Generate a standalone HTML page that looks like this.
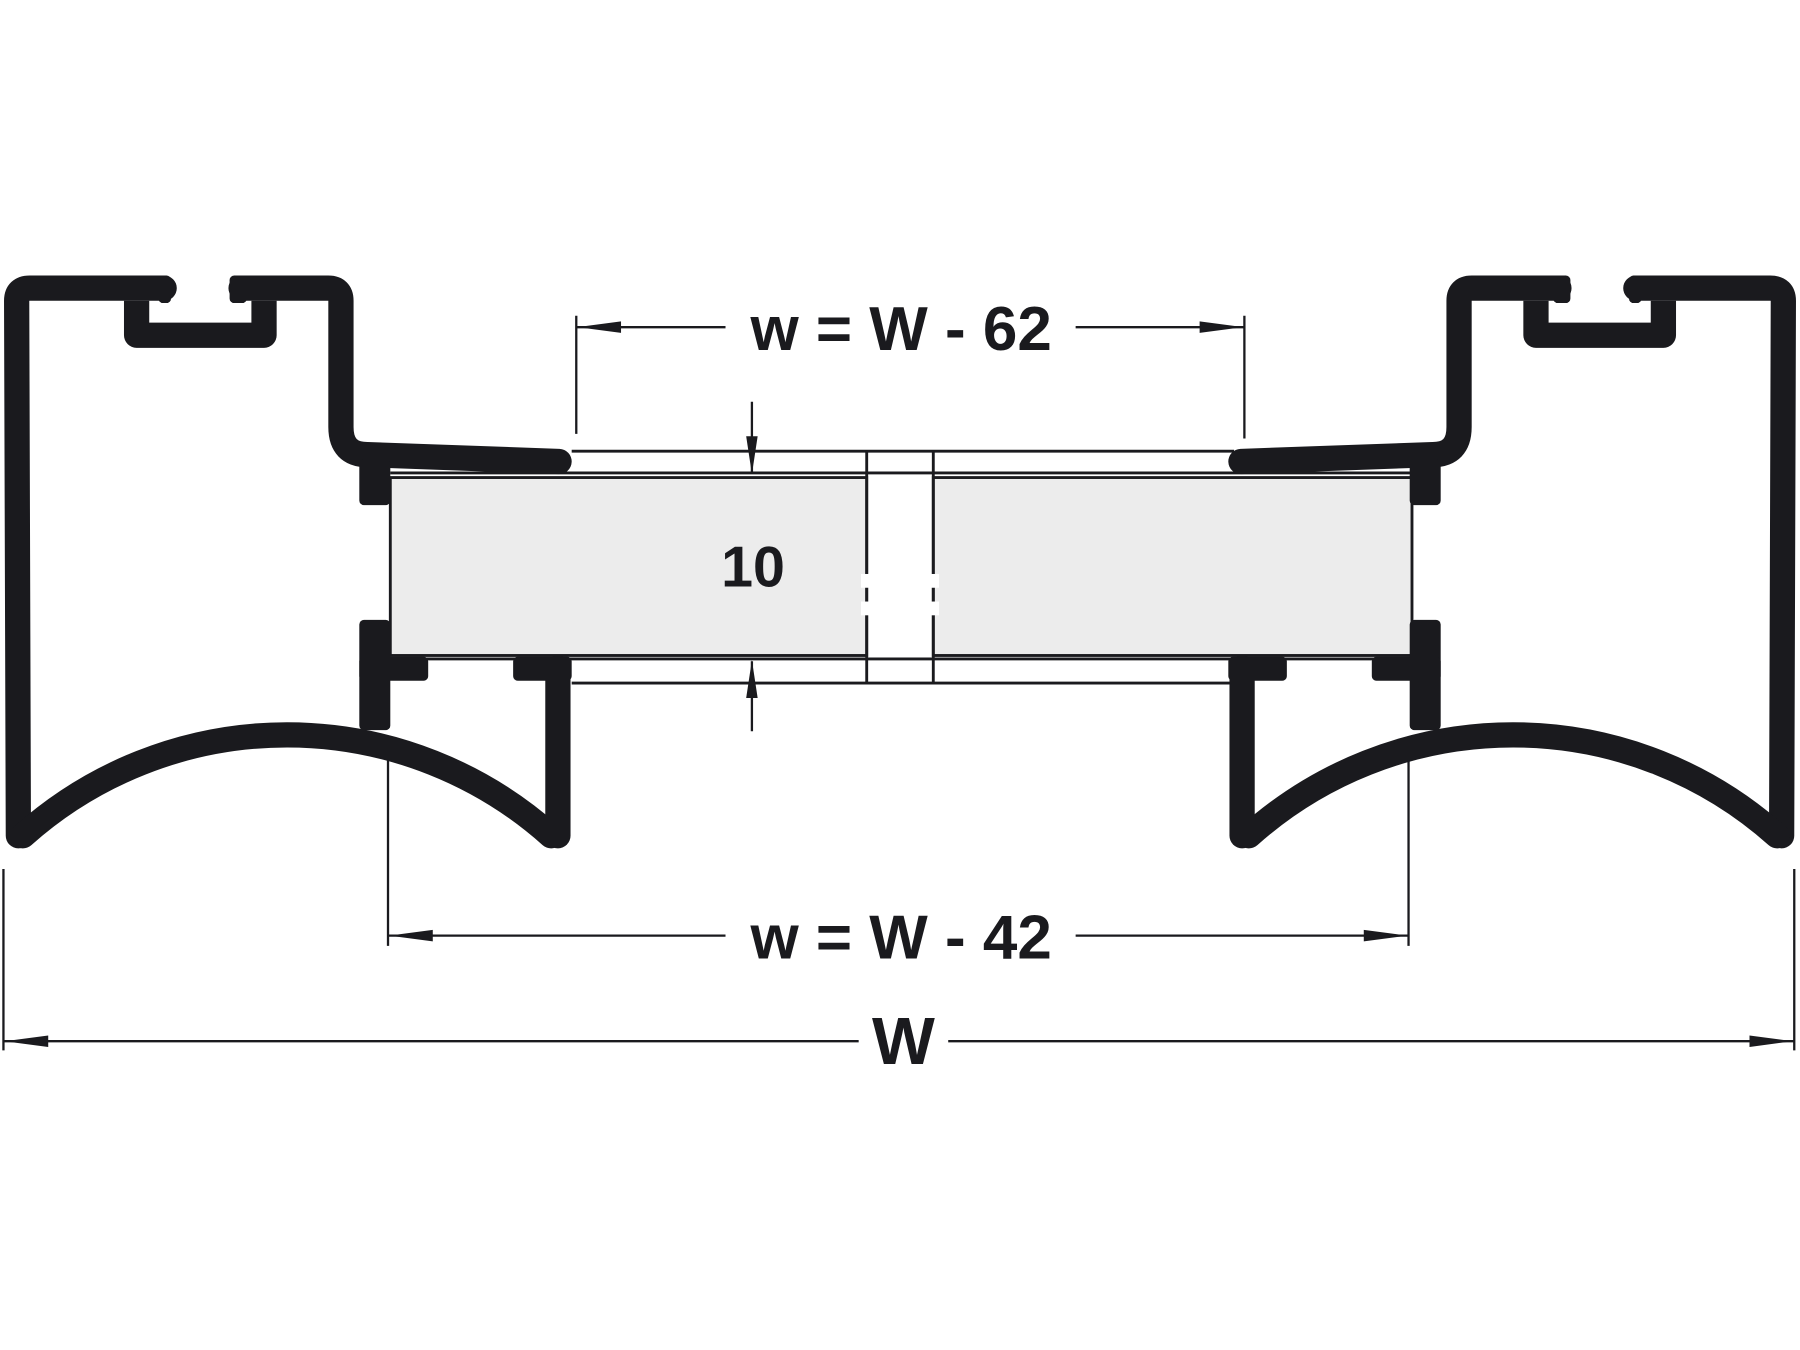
<!DOCTYPE html>
<html><head><meta charset="utf-8"><style>
html,body{margin:0;padding:0;background:#fff;}
svg{display:block;}
text{font-family:"Liberation Sans",sans-serif;font-weight:bold;fill:#1a1a1e;}
</style></head><body>
<svg width="1800" height="1350" viewBox="0 0 1568 1176" xmlns="http://www.w3.org/2000/svg">
<rect x="0" y="0" width="1568" height="1176" fill="#fff"/>
<rect x="340" y="416" width="415" height="155" fill="#ececec" stroke="#1a1a1e" stroke-width="2.5"/>
<rect x="813" y="416" width="417" height="155" fill="#ececec" stroke="#1a1a1e" stroke-width="2.5"/>
<g stroke="#1a1a1e" stroke-width="2.5" fill="none">
<line x1="498" y1="393" x2="1075" y2="393"/>
<line x1="340" y1="412" x2="1230" y2="412"/>
<line x1="340" y1="574" x2="1230" y2="574"/>
<line x1="498" y1="595" x2="1075" y2="595"/>
<line x1="755" y1="393" x2="755" y2="595"/>
<line x1="813" y1="393" x2="813" y2="595"/>
</g>
<rect x="750" y="500" width="10" height="12" fill="#fff"/>
<rect x="750" y="524" width="10" height="12" fill="#fff"/>
<rect x="808" y="500" width="10" height="12" fill="#fff"/>
<rect x="808" y="524" width="10" height="12" fill="#fff"/>

<g id="prof" fill="#1a1a1e">
<g stroke="#1a1a1e" stroke-width="22" fill="none" stroke-linejoin="round">
<path d="M16,728 L14.5,262 Q14.5,251 26,251 L143,251" stroke-linecap="round"/>
<path d="M119,262 L119,292 L230,292 L230,262" stroke-linecap="butt"/>
<path d="M210,251 L286,251 Q297,251 297,262 L297,372 Q297,396 320,396 L487,402" stroke-linecap="round"/>
<path d="M20,728 A345,345 0 0 1 480,728" stroke-linecap="round"/>
<path d="M486,582 L486,728" stroke-linecap="round"/>
</g>
<rect x="138" y="240" width="11" height="24" rx="4"/>
<rect x="200" y="240" width="15" height="24" rx="4"/>
<rect x="313" y="400" width="27" height="40" rx="4"/>
<rect x="313" y="540" width="27" height="96" rx="4"/>
<rect x="313" y="572" width="60" height="21" rx="4"/>
<rect x="447" y="572" width="51" height="21" rx="4"/>
</g>
<use href="#prof" transform="translate(1568,0) scale(-1,1)"/>

<g stroke="#1a1a1e" stroke-width="2" fill="none">
<line x1="502" y1="275" x2="502" y2="378"/>
<line x1="1084" y1="275" x2="1084" y2="382"/>
<line x1="502" y1="285" x2="632" y2="285"/>
<line x1="937" y1="285" x2="1084" y2="285"/>
<line x1="655" y1="350" x2="655" y2="412"/>
<line x1="655" y1="576" x2="655" y2="637"/>
<line x1="338" y1="660" x2="338" y2="824"/>
<line x1="1227" y1="660" x2="1227" y2="824"/>
<line x1="338" y1="815" x2="632" y2="815"/>
<line x1="937" y1="815" x2="1227" y2="815"/>
<line x1="3" y1="757" x2="3" y2="915"/>
<line x1="1563" y1="757" x2="1563" y2="915"/>
<line x1="3" y1="907" x2="748" y2="907"/>
<line x1="826" y1="907" x2="1563" y2="907"/>
</g>
<g fill="#1a1a1e">
<polygon points="503,285 541,280 541,290"/>
<polygon points="1083,285 1045,280 1045,290"/>
<polygon points="655,413 650,380 660,380"/>
<polygon points="655,575 650,608 660,608"/>
<polygon points="339,815 377,810 377,820"/>
<polygon points="1226,815 1188,810 1188,820"/>
<polygon points="4,907 42,902 42,912"/>
<polygon points="1562,907 1524,902 1524,912"/>
</g>
<text x="785" y="305" font-size="54" text-anchor="middle">w = W - 62</text>
<text x="656" y="511" font-size="50" text-anchor="middle">10</text>
<text x="785" y="835" font-size="54" text-anchor="middle">w = W - 42</text>
<text x="787" y="927" font-size="58" text-anchor="middle">W</text>
</svg>
</body></html>
